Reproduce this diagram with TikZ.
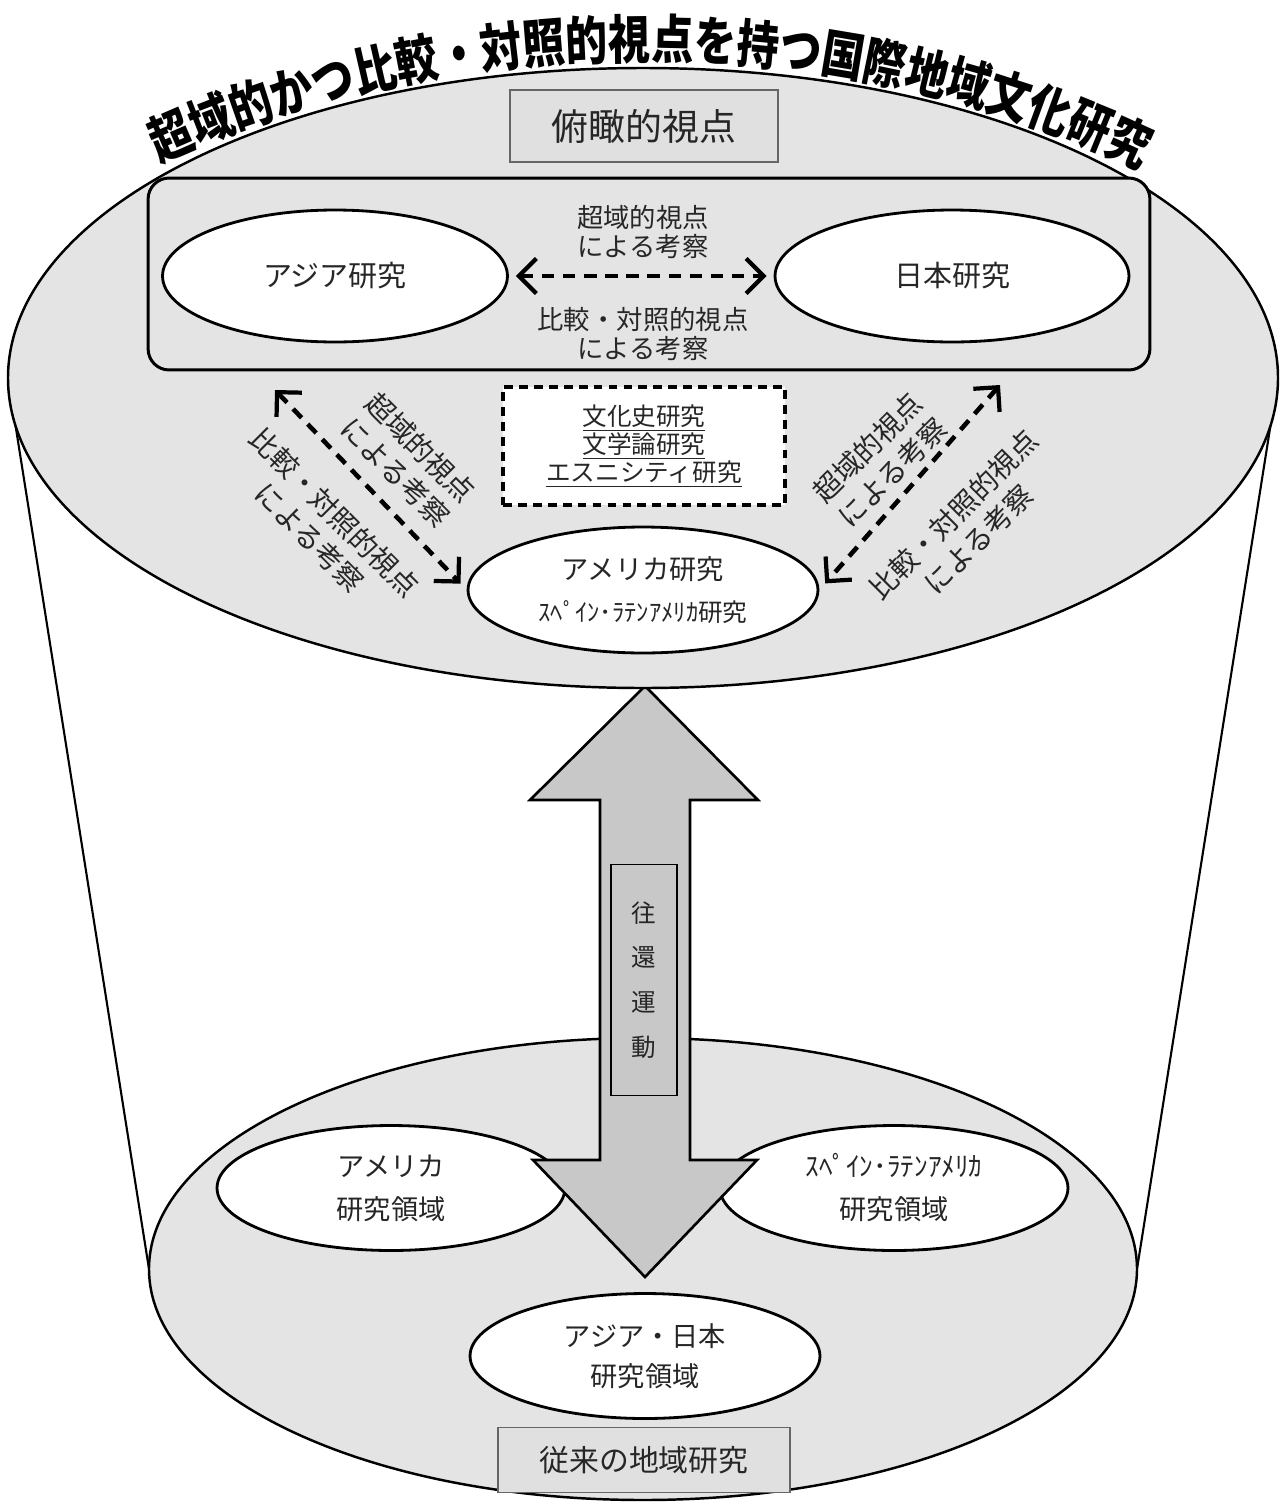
\documentclass[tikz,border=0pt]{standalone}
\usepackage{fontspec}
\setmainfont{Noto Sans CJK JP}
\newfontfamily\titlefont[FakeStretch=0.8, BoldFeatures={FakeStretch=0.8}]{Noto Sans CJK JP}
\usetikzlibrary{shapes.geometric,arrows.meta,decorations.text}
\definecolor{topgray}{HTML}{E4E4E4}
\definecolor{boxgray}{HTML}{E0E0E0}
\definecolor{arrowgray}{HTML}{C8C8C8}

\begin{document}
\begin{tikzpicture}[x=0.02cm,y=-0.02cm,
  oval/.style={ellipse, draw, line width=1.6pt, fill=white, inner sep=0pt, align=center, text=black!85},
  lbl/.style={align=center, text=black!85, font={\fontsize{15}{16.5}\selectfont}},
  slant/.style={align=center, text=black!85, font={\fontsize{16}{20}\selectfont}},
  graybox/.style={draw=black!60, line width=0.8pt, fill=boxgray, text=black!85, inner sep=0pt},
  dasharrow/.style={line width=2.6pt, dash pattern=on 7pt off 5pt,
    arrows={Straight Barb[length=3.5mm,width=7mm,line width=2.4pt]-Straight Barb[length=3.5mm,width=7mm,line width=2.4pt]}}]
  \useasboundingbox (0,0) rectangle (1282,1508);

  % Cylinder sides
  \draw[line width=1.2pt] (8,378) -- (149,1269);
  \draw[line width=1.2pt] (1278,378) -- (1137,1269);

  % Bottom disc
  \draw[line width=1.4pt, fill=topgray] (643,1269) ellipse [x radius=494, y radius=231];
  \node[oval, minimum width=6.96cm, minimum height=2.5cm, font={\fontsize{15.5}{24.5}\selectfont}] (amArea) at (391,1188) {アメリカ\\研究領域};
  \node[oval, minimum width=6.96cm, minimum height=2.5cm, font={\fontsize{15.5}{24.5}\selectfont}] (slArea) at (894,1188) {ｽﾍﾟｲﾝ･ﾗﾃﾝｱﾒﾘｶ\\研究領域};
  \node[oval, minimum width=7cm, minimum height=2.5cm, font={\fontsize{15.5}{22.5}\selectfont}] (ajArea) at (645,1356) {アジア・日本\\研究領域};
  \node[graybox, minimum width=5.84cm, minimum height=1.3cm, font={\fontsize{17}{17}\selectfont}] (oldBox) at (644,1460) {従来の地域研究};

  % Round trip arrow
  \draw[line width=1.5pt, fill=arrowgray] (645,686) -- (758,800) -- (690,800) -- (690,1160) -- (757,1160) -- (645,1277)
    -- (533,1160) -- (600,1160) -- (600,800) -- (530,800) -- cycle;
  \node[draw, line width=0.8pt, fill=arrowgray, minimum width=1.32cm, minimum height=4.62cm, inner sep=0pt,
    align=center, text=black!85, font={\fontsize{14}{25.5}\selectfont}] (trip) at (644,980) {往\\還\\運\\動};

  % Top disc
  \draw[line width=1.4pt, fill=topgray] (643,378) ellipse [x radius=635, y radius=310];
  \node[graybox, minimum width=5.36cm, minimum height=1.44cm, font={\fontsize{21}{21}\selectfont}] (overview) at (644,126) {俯瞰的視点};

  % Asia / Japan panel
  \node[draw, line width=1.7pt, rounded corners=12pt, fill=topgray, minimum width=20.04cm, minimum height=3.84cm] (panel) at (649,274) {};
  \node[oval, minimum width=6.9cm, minimum height=2.64cm, font={\fontsize{16.5}{16.5}\selectfont}] (asia) at (335,276) {アジア研究};
  \node[oval, minimum width=7.08cm, minimum height=2.64cm, font={\fontsize{16.5}{16.5}\selectfont}] (japan) at (952,276) {日本研究};
  \draw[dasharrow, shorten <=4pt, shorten >=4pt] (asia) -- (japan);
  \node[lbl] (ajTrans) at (643,232) {超域的視点\\による考察};
  \node[lbl] (ajComp) at (643,334) {比較・対照的視点\\による考察};

  % Fields
  \node[draw, line width=1.8pt, dash pattern=on 5pt off 3.5pt, fill=white, minimum width=5.64cm, minimum height=2.36cm,
    align=center, text=black!85, font={\fontsize{14}{14.7}\selectfont}] (fields) at (644,446)
    {\underline{文化史研究}\\\underline{文学論研究}\\\underline{エスニシティ研究}};
  \node[oval, minimum width=7cm, minimum height=2.52cm, font={\fontsize{15.5}{24}\selectfont}] (america) at (643,590)
    {アメリカ研究\\{\fontsize{14}{24}\selectfont ｽﾍﾟｲﾝ･ﾗﾃﾝｱﾒﾘｶ研究}};

  % Diagonal links
  \coordinate (asiaTail) at (275,390);
  \coordinate (japanTail) at (1000,385);
  \draw[dasharrow, shorten >=5pt] (asiaTail) -- (america.west);
  \draw[dasharrow, shorten >=5pt] (japanTail) -- (america.east);
  \node[slant, rotate=-45] (lTrans) at (408,460) {超域的視点\\による考察};
  \node[slant, rotate=-45] (lComp) at (322,525) {比較・対照的視点\\による考察};
  \node[slant, rotate=45] (rTrans) at (880,460) {超域的視点\\による考察};
  \node[slant, rotate=45] (rComp) at (966,527) {比較・対照的視点\\による考察};

  % Title
  \path[decorate, decoration={text along path, text align=center,
    text={|\titlefont\bfseries\fontsize{30}{30}\selectfont|超域的かつ比較・対照的視点を持つ国際地域文化研究}}]
    (128,178) .. controls (450,18) and (850,18) .. (1172,185);
\end{tikzpicture}
\end{document}
